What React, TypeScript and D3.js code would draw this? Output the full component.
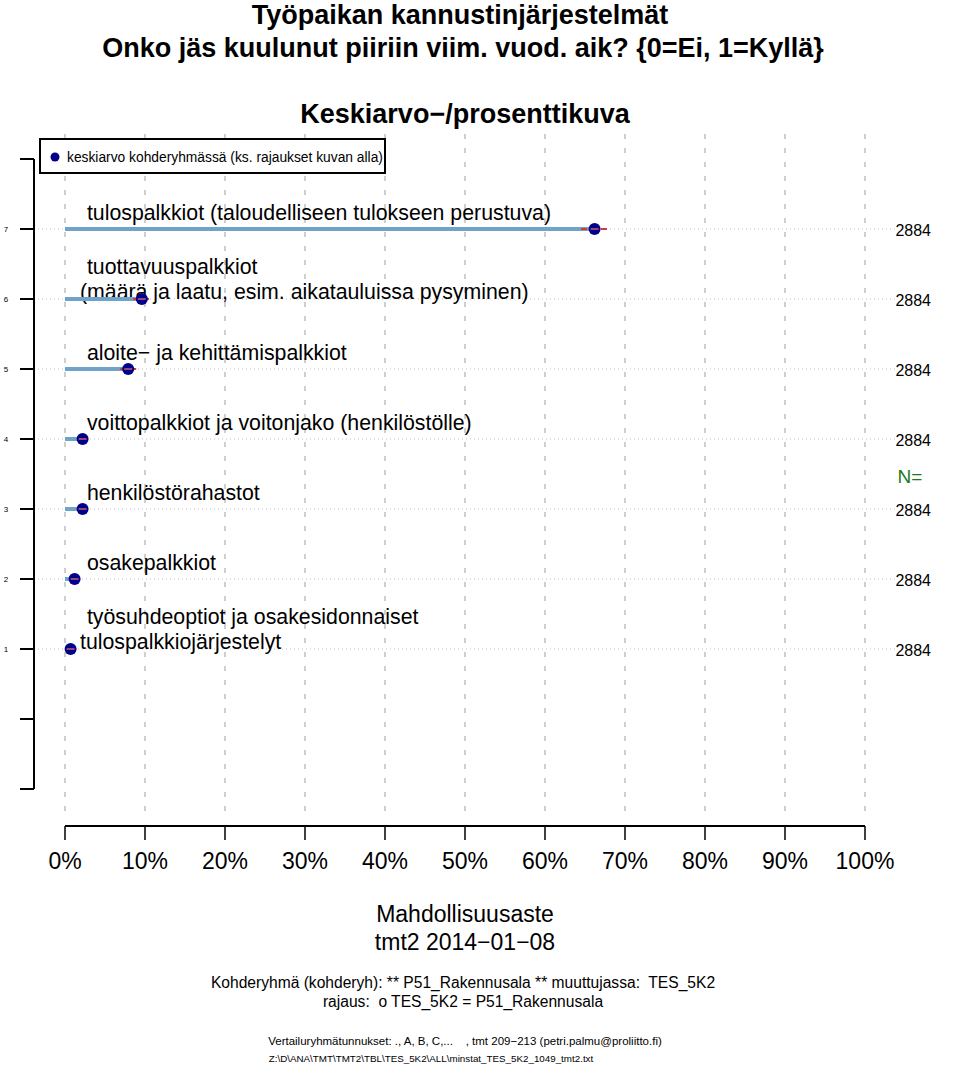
import React from "react";
import * as d3 from "d3";

const rowLabels: string[][] = [
  [" tulospalkkiot (taloudelliseen tulokseen perustuva)"],
  [" tuottavuuspalkkiot", "(määrä ja laatu, esim. aikatauluissa pysyminen)"],
  [" aloite− ja kehittämispalkkiot"],
  [" voittopalkkiot ja voitonjako (henkilöstölle)"],
  [" henkilöstörahastot"],
  [" osakepalkkiot"],
  [" työsuhdeoptiot ja osakesidonnaiset", "tulospalkkiojärjestelyt"],
];
const rowPos = [7, 6, 5, 4, 3, 2, 1];
const means = [66.2, 9.6, 7.9, 2.2, 2.2, 1.2, 0.7];
const ciLow = [64.5, 8.5, 6.9, 1.7, 1.7, 0.8, 0.4];
const ciHigh = [68.0, 10.9, 8.9, 2.7, 2.7, 1.6, 1.0];
const nValues = [2884, 2884, 2884, 2884, 2884, 2884, 2884];
const xTicks = [0, 10, 20, 30, 40, 50, 60, 70, 80, 90, 100];
const yTicks = [-1, 0, 1, 2, 3, 4, 5, 6, 7, 8];
const yTickLabels = ["", "", "1", "2", "3", "4", "5", "6", "7", ""];

const FONT = "'Liberation Sans', Arial, Helvetica, sans-serif";

export default function App() {
  const W = 960, H = 1065;
  const x = d3.scaleLinear().domain([0, 100]).range([65, 865]);
  const y = d3.scaleLinear().domain([-1, 8]).range([789, 159]);
  const pre = { whiteSpace: "pre" as const };

  return (
    <svg width={W} height={H} style={{ position: "absolute", left: 0, top: 0, background: "#fff" }} fontFamily={FONT}>
      {/* titles */}
      <text x={460} y={24} textAnchor="middle" fontSize={27} fontWeight="bold">Työpaikan kannustinjärjestelmät</text>
      <text x={463} y={57} textAnchor="middle" fontSize={27} fontWeight="bold">Onko jäs kuulunut piiriin viim. vuod. aik? {"{0=Ei, 1=Kyllä}"}</text>
      <text x={465} y={123} textAnchor="middle" fontSize={27} fontWeight="bold">Keskiarvo−/prosenttikuva</text>

      {/* vertical dashed gridlines */}
      {xTicks.map((t) => (
        <line key={"g" + t} x1={x(t)} x2={x(t)} y1={134} y2={820} stroke="#b0b0b0" strokeWidth={1.2} strokeDasharray="5,9" />
      ))}

      {/* row dotted lines */}
      {rowPos.map((p) => (
        <line key={"r" + p} x1={34} x2={895} y1={y(p)} y2={y(p)} stroke="#c0c0c0" strokeWidth={1} strokeDasharray="1,3" />
      ))}

      {/* y axis */}
      <line x1={34} x2={34} y1={y(8)} y2={y(-1)} stroke="#000" strokeWidth={2} />
      {yTicks.map((t, i) => (
        <g key={"yt" + t}>
          <line x1={20} x2={34} y1={y(t)} y2={y(t)} stroke="#000" strokeWidth={2} />
          <text x={6} y={y(t) + 3} fontSize={8} textAnchor="middle">{yTickLabels[i]}</text>
        </g>
      ))}

      {/* x axis */}
      <line x1={x(0)} x2={x(100)} y1={826} y2={826} stroke="#000" strokeWidth={2} />
      {xTicks.map((t) => (
        <g key={"xt" + t}>
          <line x1={x(t)} x2={x(t)} y1={826} y2={840} stroke="#000" strokeWidth={1.5} />
          <text x={x(t)} y={869} fontSize={23} textAnchor="middle">{t}%</text>
        </g>
      ))}

      {/* legend */}
      <rect x={40} y={139} width={345} height={34} fill="#fff" stroke="#000" strokeWidth={2} />
      <circle cx={55} cy={157} r={4.5} fill="#00008b" />
      <text x={67} y={162} fontSize={13.8}>keskiarvo kohderyhmässä (ks. rajaukset kuvan alla)</text>

      {/* labels */}
      {rowLabels.map((lines, i) => {
        const p = rowPos[i];
        const base = y(p);
        if (lines.length === 1) {
          return (
            <text key={"l" + i} x={81} y={base - 9} fontSize={21.3} style={pre}>{lines[0]}</text>
          );
        }
        return (
          <g key={"l" + i}>
            <text x={81} y={base - 25} fontSize={21.3} style={pre}>{lines[0]}</text>
            <text x={80} y={base} fontSize={21.3} style={pre}>{lines[1]}</text>
          </g>
        );
      })}

      {/* bars, CI, dots */}
      {means.map((m, i) => {
        const cy = y(rowPos[i]);
        return (
          <g key={"m" + i}>
            <line x1={x(0)} x2={x(m)} y1={cy} y2={cy} stroke="#6fa3c9" strokeWidth={4} />
            <line x1={x(ciLow[i])} x2={x(ciHigh[i])} y1={cy} y2={cy} stroke="#d9373a" strokeWidth={2} strokeDasharray="6,4" />
            <circle cx={x(m)} cy={cy} r={6} fill="#00008b" />
            <line x1={x(m) - 4} x2={x(m) + 4} y1={cy} y2={cy} stroke="#c06070" strokeWidth={1.5} />
          </g>
        );
      })}

      {/* N column */}
      {nValues.map((n, i) => (
        <text key={"n" + i} x={931} y={y(rowPos[i]) + 7} fontSize={16} textAnchor="end">{n}</text>
      ))}
      <text x={910} y={483} fontSize={19} fill="#1a7a1a" textAnchor="middle">N=</text>

      {/* bottom texts */}
      <text x={465} y={922} fontSize={23} textAnchor="middle">Mahdollisuusaste</text>
      <text x={465} y={950} fontSize={23} textAnchor="middle">tmt2 2014−01−08</text>
      <text x={463} y={988} fontSize={15.6} textAnchor="middle" style={pre}>Kohderyhmä (kohderyh): ** P51_Rakennusala ** muuttujassa:  TES_5K2</text>
      <text x={463} y={1007} fontSize={15.6} textAnchor="middle" style={pre}>rajaus:  o TES_5K2 = P51_Rakennusala</text>
      <text x={465} y={1045} fontSize={11.5} textAnchor="middle" style={pre}>Vertailuryhmätunnukset: ., A, B, C,...    , tmt 209−213 (petri.palmu@proliitto.fi)</text>
      <text x={431} y={1062} fontSize={9.8} textAnchor="middle">Z:\D\ANA\TMT\TMT2\TBL\TES_5K2\ALL\minstat_TES_5K2_1049_tmt2.txt</text>
    </svg>
  );
}
